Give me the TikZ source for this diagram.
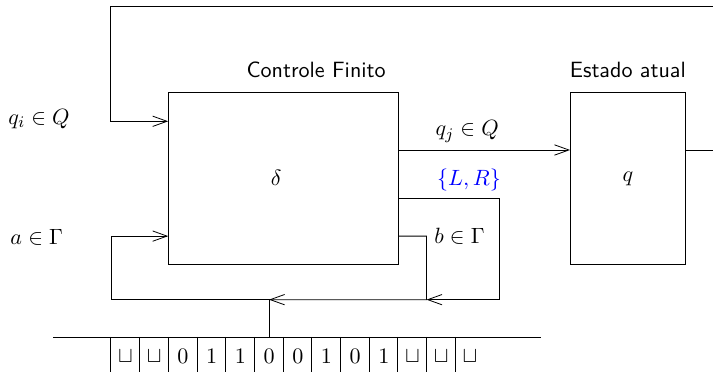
\documentclass[tikz,border=0pt,11pt]{standalone}
\usepackage{amsmath,amssymb}
\usetikzlibrary{arrows.meta,positioning}

\begin{document}
\begin{tikzpicture}[>={Straight Barb[length=2.5mm,width=1.8mm]},
  unit/.style={draw, minimum width=40mm, minimum height=30mm},
  title/.style={font=\sffamily},
  cell/.style={anchor=north west, minimum width=5mm, minimum height=6.6mm, inner sep=0pt}]
  \useasboundingbox (-1.93,-0.61) rectangle (10.49,5.87);
  \clip (-1.93,-0.61) rectangle (10.49,5.87);
  \node[unit, anchor=south west] (ctl) at (1,1.25) {};
  \node (delta) at (2.88,2.78) {$\delta$};
  \node[unit, minimum width=20mm, anchor=south west] (est) at (8,1.25) {$q$};
  \node[title, above=1.2mm of ctl, xshift=5.7mm] (ctlname) {Controle Finito};
  \node[title, above=1.2mm of est] (estname) {Estado atual};
  % fita
  \coordinate (tl) at (-1,0);
  \coordinate (tr) at (7.5,0);
  \draw (tl) -- (tr);
  \foreach \s [count=\i from 0] in {\sqcup,\sqcup,0,1,1,0,0,1,0,1,\sqcup,\sqcup,\sqcup} {
    \node[cell] (c\i) at (0.5*\i,0) {$\s$};
    \draw (c\i.north west) -- (c\i.south west);
  }
  \coordinate (hd) at ([yshift=6.5mm]c5.north);
  \coordinate (wr) at (5.5,0.65);
  % entradas
  \node (qi) at (-1.25,3.8) {$q_i \in Q$};
  \node (ai) at (-1.29,1.74) {$a \in \Gamma$};
  % conexoes
  \draw[->] ([yshift=5mm]est.east) -- ++(1,0) |- (0,5.75) |- ([yshift=10mm]ctl.west);
  \draw[->] ([yshift=5mm]ctl.east) -- ([yshift=5mm]est.west)
    node[pos=0.4, above] (qj) {$q_j \in Q$};
  \draw[->] ([yshift=-3.5mm]ctl.east) -- node[pos=0.7, above, text=blue] (lr) {$\{L,R\}$} ++(1.75,0) |- (wr);
  \draw[->] ([yshift=-10mm]ctl.east) -| node[pos=0.5, right] (bo) {$b \in \Gamma$} (wr) -- (hd);
  \draw[->] (c5.north) -- (hd) -- ++(-2.75,0) |- ([yshift=-10mm]ctl.west);
\end{tikzpicture}
\end{document}
